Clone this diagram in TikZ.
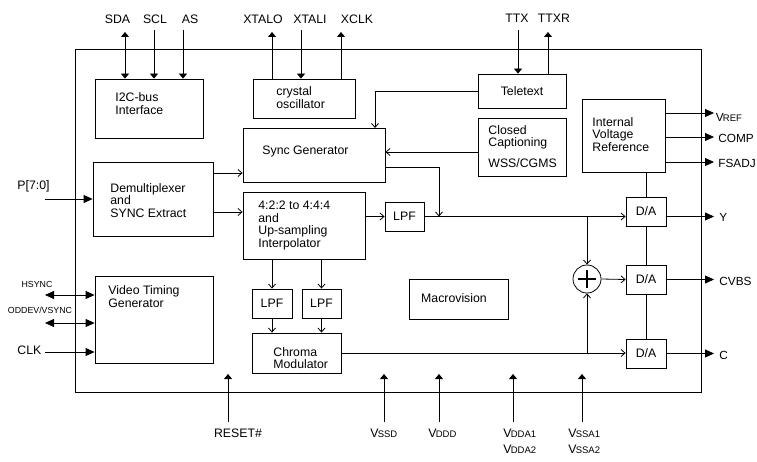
\documentclass[tikz,border=0pt]{standalone}
\usepackage{fontspec}
\setmainfont{Liberation Sans}
\usetikzlibrary{arrows.meta,calc}
\newcommand{\vsub}[1]{V\kern-0.8pt{\fontsize{9.5}{10}\selectfont #1}}
\begin{document}
\begin{tikzpicture}[x=1pt,y=-1pt,line width=0.8pt,
  blk/.style={draw,inner sep=0pt,line width=0.8pt},
  txt/.style={inner sep=0pt,align=left,font=\fontsize{12.3}{12.5}\selectfont},
  rtxt/.style={inner sep=0pt,anchor=west,font=\fontsize{11.8}{12}\selectfont},
  small/.style={inner sep=0pt,font=\fontsize{8.8}{9}\selectfont},
  ia/.style={-{Straight Barb[length=4pt,width=7pt]}},
  pv/.style={-{Triangle[length=5pt,width=8pt]}},
  pvv/.style={{Triangle[length=5pt,width=8pt]}-{Triangle[length=5pt,width=8pt]}},
  ph/.style={-{Triangle[length=9pt,width=8pt]}},
  phh/.style={{Triangle[length=9pt,width=8pt]}-{Triangle[length=9pt,width=8pt]}}]
\useasboundingbox (0,0) rectangle (757,462);

% outer chip
\node[blk,minimum width=626,minimum height=343] (chip) at (388,220.5) {};

% blocks
\node[blk,minimum width=108,minimum height=59] (i2c) at (149,108.5) {};
\node[blk,minimum width=102,minimum height=39] (xtal) at (304,98.5) {};
\node[blk,minimum width=88,minimum height=34,txt] (ttx) at (522,91) {Teletext};
\node[blk,minimum width=88,minimum height=58] (cc) at (522,147) {};
\node[blk,minimum width=83,minimum height=73] (ivr) at (623.5,135.5) {};
\node[blk,minimum width=142,minimum height=54] (sync) at (314,155) {};
\node[blk,minimum width=120,minimum height=74] (demux) at (153,199) {};
\node[blk,minimum width=122,minimum height=67] (interp) at (304,225.5) {};
\node[blk,minimum width=39,minimum height=29,txt] (lpfy) at (404.5,216.5) {LPF};
\node[blk,minimum width=118,minimum height=87] (vtg) at (154,319.5) {};
\node[blk,minimum width=40,minimum height=29,txt] (lpf1) at (272,303.5) {LPF};
\node[blk,minimum width=39,minimum height=29,txt] (lpf2) at (321.5,303.5) {LPF};
\node[blk,minimum width=89,minimum height=40] (chroma) at (296.5,353) {};
\node[blk,minimum width=99,minimum height=40] (macro) at (458.5,299) {};
\node[blk,minimum width=40,minimum height=29,txt] (day) at (646,211.5) {D/A};
\node[blk,minimum width=40,minimum height=29,txt] (dacv) at (646,279.5) {D/A};
\node[blk,minimum width=40,minimum height=29,txt] (dac) at (646,353.5) {D/A};
\node[draw,circle,minimum size=28,inner sep=0pt] (adder) at (587,279) {};
\draw[line width=1.3pt] ($(adder.center)+(-9,0)$) -- ($(adder.center)+(9,0)$)
  ($(adder.center)+(0,-9)$) -- ($(adder.center)+(0,9)$);

% block texts
\node[txt,anchor=west] (ti2c) at (115,103.7) {I2C-bus\\Interface};
\node[txt,anchor=west] (txtal) at (276,97.5) {crystal\\oscillator};
\node[txt,anchor=west] (tcc) at (488,137.5) {Closed\\Captioning};
\node[txt,anchor=west] (twss) at (488,163) {WSS/CGMS};
\node[txt,anchor=west] (tivr) at (592,134.5) {Internal\\Voltage\\Reference};
\node[txt,anchor=west] (tsync) at (262,151) {Sync Generator};
\node[txt,anchor=west] (tdemux) at (110,200.5) {Demultiplexer\\and\\SYNC Extract};
\node[txt,anchor=west] (tinterp) at (258,225.5) {4:2:2 to 4:4:4\\and\\Up-sampling\\Interpolator};
\node[txt,anchor=west] (tvtg) at (108,296.5) {Video Timing\\Generator};
\node[txt,anchor=west] (tchroma) at (273,358) {Chroma\\Modulator};
\node[txt] (tmacro) at (454,298) {Macrovision};

% internal connections
\coordinate (d1) at ($(demux.east)+(0,-26)$);
\coordinate (d2) at ($(demux.east)+(0,13)$);
\draw[ia] (d1) -- (sync.west|-d1);
\draw[ia] (d2) -- (interp.west|-d2);
\coordinate (tj) at (375,128);
\draw[ia] (ttx.west) -| (tj);
\coordinate (ccj) at ($(cc.west)+(0,5)$);
\draw[ia] (ccj) -- (sync.east|-ccj);
\coordinate (sj) at ($(sync.east)+(0,12)$);
\coordinate (yj) at (439,216.5);
\draw[ia] (sj) -| (yj);
\draw[ia] (interp.east|-lpfy.west) -- (lpfy.west);
\draw[ia] (lpfy.east) -- (day.west|-lpfy.east);
\draw[ia] (lpf1.north|-interp.south) -- (lpf1.north);
\draw[ia] (lpf2.north|-interp.south) -- (lpf2.north);
\draw[ia] (lpf1.south) -- (lpf1.south|-chroma.north);
\draw[ia] (lpf2.south) -- (lpf2.south|-chroma.north);
\draw[ia] (chroma.east) -- (dac.west|-chroma.east);
\draw[ia] (adder.north|-lpfy.east) -- (adder.north);
\draw[ia] (adder.south|-chroma.east) -- (adder.south);
\draw[ia] (adder.east) -- (dacv.west);
\draw (day.north|-ivr.south) -- (day.north);
\draw (day.south) -- (dacv.north);
\draw (dacv.south) -- (dac.north);

% top pins
\coordinate (psda) at (125,32);
\coordinate (pscl) at (154,30);
\coordinate (pas) at (183,30);
\coordinate (pxo) at (272,32);
\coordinate (pxi) at (301,30);
\coordinate (pxc) at (341,32);
\coordinate (pttx) at (518,30);
\coordinate (pttxr) at (548,32);
\draw[pvv] (psda) -- (i2c.north-|psda);
\draw[pv] (pscl) -- (i2c.north-|pscl);
\draw[pv] (pas) -- (i2c.north-|pas);
\draw[pv] (xtal.north-|pxo) -- (pxo);
\draw[pv] (pxi) -- (xtal.north-|pxi);
\draw[pv] (xtal.north-|pxc) -- (pxc);
\draw[pv] (pttx) -- (ttx.north-|pttx);
\draw[pv] (ttx.north-|pttxr) -- (pttxr);
\node[txt] (lsda) at (117.5,19) {SDA};
\node[txt] (lscl) at (155,19) {SCL};
\node[txt] (las) at (190,19) {AS};
\node[txt] (lxo) at (263,19) {XTALO};
\node[txt] (lxi) at (310,19) {XTALI};
\node[txt] (lxc) at (357,19) {XCLK};
\node[txt] (lttx) at (517,18) {TTX};
\node[txt] (lttxr) at (554,18) {TTXR};

% right pins
\coordinate (oref) at (714,113);
\coordinate (ocomp) at (714,137);
\coordinate (ofs) at (714,162);
\coordinate (oy) at (714,216.5);
\coordinate (ocv) at (714,279.5);
\coordinate (oc) at (714,353.5);
\draw[ph] (ivr.east|-oref) -- (oref);
\draw[ph] (ivr.east|-ocomp) -- (ocomp);
\draw[ph] (ivr.east|-ofs) -- (ofs);
\draw[ph] (day.east|-oy) -- (oy);
\draw[ph] (dacv.east) -- (ocv);
\draw[ph] (dac.east) -- (oc);
\node[rtxt] (lref) at (715.5,117) {\vsub{REF}};
\node[rtxt] (lcomp) at (718,138.5) {COMP};
\node[rtxt] (lfs) at (718,163.5) {FSADJ};
\node[rtxt] (ly) at (719,217.5) {Y};
\node[rtxt] (lcv) at (719,281) {CVBS};
\node[rtxt] (lc) at (719,355.5) {C};

% left pins
\coordinate (ip) at (45,199);
\coordinate (ihs) at (45,295);
\coordinate (iod) at (45,323);
\coordinate (iclk) at (45,352);
\draw[ph] (ip) -- (demux.west|-ip);
\draw[phh] (ihs) -- (vtg.west|-ihs);
\draw[phh] (iod) -- (vtg.west|-iod);
\draw[ph] (iclk) -- (vtg.west|-iclk);
\node[txt,anchor=west] (lp) at (17,186) {P[7:0]};
\node[small] (lhs) at (37,284) {HSYNC};
\node[small] (lod) at (40,310) {ODDEV/VSYNC};
\node[txt,anchor=west] (lclk) at (17,350.5) {CLK};

% bottom pins
\foreach \n/\x in {rst/228,vssd/384,vddd/439,vdda/513,vssa/582}{
  \coordinate (b\n) at (\x,422);
  \coordinate (t\n) at (\x,374);
  \draw[pv] (b\n) -- (t\n);
}
\node[txt] (lrst) at (238,433) {RESET\#};
\node[txt,anchor=west] (lvssd) at (370,433) {\vsub{SSD}};
\node[txt,anchor=west] (lvddd) at (428,433) {\vsub{DDD}};
\node[txt,anchor=west] (lvdda1) at (503,433) {\vsub{DDA1}};
\node[txt,anchor=west] (lvdda2) at (503,449) {\vsub{DDA2}};
\node[txt,anchor=west] (lvssa1) at (568,433) {\vsub{SSA1}};
\node[txt,anchor=west] (lvssa2) at (568,449) {\vsub{SSA2}};
\end{tikzpicture}
\end{document}
